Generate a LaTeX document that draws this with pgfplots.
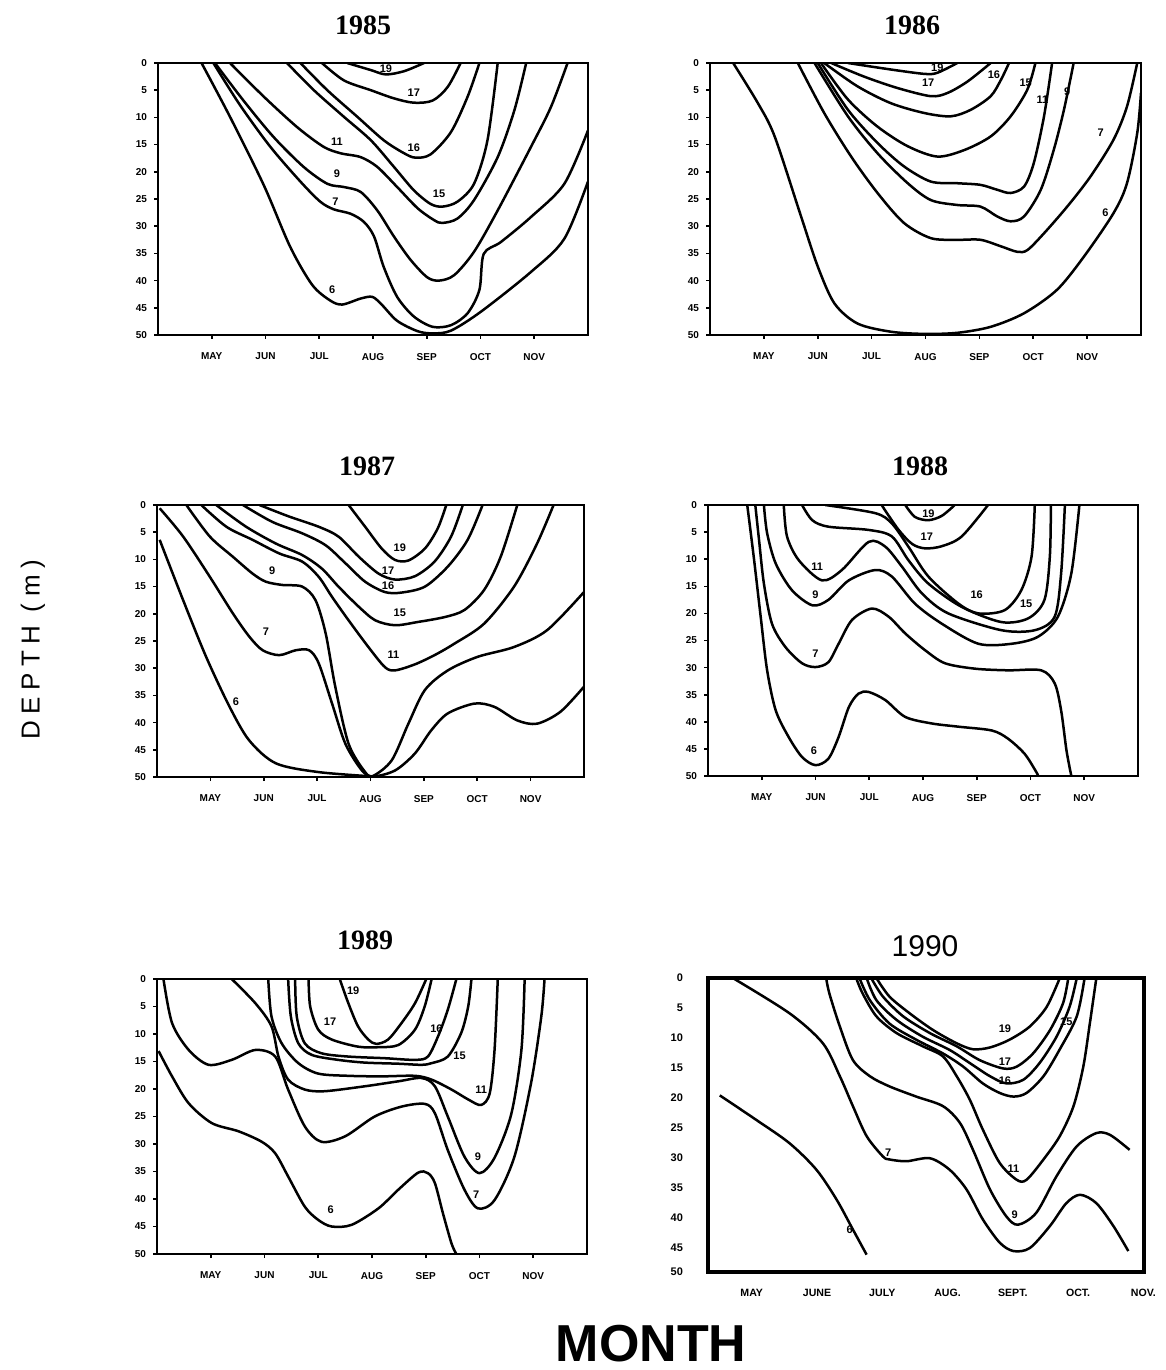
\documentclass[border=0pt]{standalone}
\usepackage{fontspec}
\setmainfont{Liberation Serif}
\setsansfont{Liberation Sans}
\usepackage{pgfplots}
\pgfplotsset{compat=1.18}
\newcommand{\tickfont}{\sffamily\bfseries\fontsize{5}{6}\selectfont}
\tikzset{lbl/.style={font=\sffamily\bfseries\fontsize{5.5}{6}\selectfont, inner sep=0.5pt}}
\pgfplotscreateplotcyclelist{blk}{{black,solid,mark=none,smooth,line width=1.25pt}\\}
\pgfplotsset{
  panel/.style={
    scale only axis, anchor=north west,
    xmin=0, xmax=8, ymin=0, ymax=50, y dir=reverse,
    xtick={1,...,7}, xticklabels={MAY,JUN,JUL,AUG,SEP,OCT,NOV},
    ytick={0,5,...,50},
    xtick pos=left, ytick pos=left,
    tick align=outside, major tick length=2pt,
    tick style={line width=0.8pt, black},
    /pgf/number format/assume math mode=true,
    yticklabel style={font=\tickfont},
    xticklabel style={font=\tickfont, yshift=-3.5pt},
    axis line style={line width=1.4pt},
    cycle list name=blk,
  },
}
\begin{document}
\begin{tikzpicture}
\path[use as bounding box] (0,0) rectangle (583pt,-685pt);

% ---------------- 1985 ----------------
\node[font=\bfseries\fontsize{14}{14}\selectfont] at (181.5pt,-12.5pt) {1985};
\begin{axis}[panel, at={(79pt,-31.5pt)}, width=215pt, height=136pt]
\addplot coordinates {(3.52,0)(3.96,1.3)(4.24,2.1)(4.58,1.5)(4.95,0)};
\addplot coordinates {(3.05,0)(3.46,3.2)(3.96,5.0)(4.39,6.5)(4.76,7.3)(5.11,6.9)(5.39,4.4)(5.63,0)};
\addplot coordinates {(2.65,0)(3.15,5.0)(3.71,9.9)(4.20,14.2)(4.58,16.6)(4.79,17.4)(5.07,16.8)(5.45,12.7)(5.76,6.2)(5.98,0)};
\addplot coordinates {(2.40,0)(2.90,5.0)(3.46,9.9)(3.96,14.2)(4.39,19.1)(4.76,23.4)(5.07,25.9)(5.29,26.4)(5.57,25.5)(5.88,22.2)(6.13,14.2)(6.32,0)};
\addplot coordinates {(1.34,0)(1.97,6.2)(2.59,11.8)(3.08,15.4)(3.40,16.6)(3.77,17.3)(4.08,19.1)(4.45,22.8)(4.83,26.7)(5.14,28.9)(5.29,29.4)(5.57,28.6)(5.88,25.2)(6.32,17.3)(6.63,8.7)(6.85,0)};
\addplot coordinates {(1.06,0)(1.59,6.9)(2.15,13.6)(2.71,19.1)(3.15,22.2)(3.46,22.8)(3.77,23.7)(4.08,27.1)(4.39,31.9)(4.70,36.2)(5.01,39.4)(5.23,40.0)(5.51,39.0)(5.88,34.7)(6.32,27.1)(6.94,15.4)(7.31,8.1)(7.62,0)};
\addplot coordinates {(1.03,0)(1.53,7.8)(2.09,15.4)(2.65,21.8)(3.02,25.5)(3.27,26.9)(3.58,27.7)(3.83,29.2)(4.02,31.9)(4.20,37.5)(4.45,43.0)(4.76,46.6)(5.11,48.5)(5.45,48.2)(5.76,46.0)(5.98,41.7)(6.06,35.1)(6.38,32.9)(6.94,28.3)(7.56,22.2)(8.0,12.4)};
\addplot coordinates {(0.81,0)(1.34,9.9)(1.97,22.5)(2.46,33.8)(2.87,40.8)(3.21,43.7)(3.43,44.4)(3.77,43.3)(3.99,43.0)(4.17,44.5)(4.45,47.4)(4.83,49.3)(5.11,49.7)(5.45,49.2)(6.01,45.7)(6.94,38.4)(7.56,32.3)(8.0,21.8)};
\node[lbl] at (axis cs:4.24,1.0) {19};
\node[lbl] at (axis cs:4.76,5.5) {17};
\node[lbl] at (axis cs:4.76,15.5) {16};
\node[lbl] at (axis cs:5.23,24.0) {15};
\node[lbl] at (axis cs:3.33,14.5) {11};
\node[lbl] at (axis cs:3.33,20.3) {9};
\node[lbl] at (axis cs:3.30,25.5) {7};
\node[lbl] at (axis cs:3.24,41.6) {6};
\end{axis}

% ---------------- 1986 ----------------
\node[font=\bfseries\fontsize{14}{14}\selectfont] at (456pt,-12.5pt) {1986};
\begin{axis}[panel, at={(355pt,-31.5pt)}, width=215.5pt, height=136pt]
\addplot coordinates {(2.56,0)(3.36,1.2)(3.98,2.0)(4.22,1.8)(4.59,0)};
\addplot coordinates {(2.25,0)(2.86,2.5)(3.48,4.6)(4.10,6.1)(4.41,5.5)(4.78,3.4)(5.21,0)};
\addplot coordinates {(2.12,0)(2.74,4.3)(3.36,7.4)(3.98,9.2)(4.47,9.8)(4.84,8.6)(5.21,6.1)(5.40,3.1)(5.55,0)};
\addplot coordinates {(2.06,0)(2.56,6.7)(3.11,11.7)(3.67,15.3)(4.22,17.2)(4.72,16.0)(5.21,13.5)(5.58,9.8)(5.89,4.9)(6.04,0)};
\addplot coordinates {(2.00,0)(2.56,8.6)(3.11,14.7)(3.60,19.0)(4.10,21.8)(4.59,22.1)(5.02,22.4)(5.33,23.3)(5.58,23.9)(5.83,22.7)(6.01,18.4)(6.20,9.8)(6.35,0)};
\addplot coordinates {(1.94,0)(2.56,9.8)(3.11,16.6)(3.67,22.1)(4.10,25.2)(4.59,26.1)(5.02,26.4)(5.33,28.2)(5.58,29.1)(5.83,28.2)(6.14,23.3)(6.38,16.0)(6.57,8.6)(6.75,0)};
\addplot coordinates {(1.63,0)(2.12,9.2)(2.62,17.2)(3.11,23.9)(3.60,29.4)(4.10,32.2)(4.59,32.5)(5.02,32.5)(5.40,33.7)(5.70,34.7)(5.89,34.4)(6.20,31.3)(6.63,26.4)(7.06,20.9)(7.49,14.1)(7.74,8.0)(7.93,0)};
\addplot coordinates {(0.43,0)(0.89,7.4)(1.20,13.5)(1.69,28.2)(2.00,37.4)(2.31,44.2)(2.74,47.9)(3.36,49.4)(3.98,49.8)(4.59,49.6)(5.21,48.5)(5.83,46.0)(6.44,41.7)(6.94,35.6)(7.49,27.6)(7.74,22.1)(7.93,12.9)(8.0,5.5)};
\node[lbl] at (axis cs:4.22,0.9) {19};
\node[lbl] at (axis cs:4.05,3.7) {17};
\node[lbl] at (axis cs:5.27,2.1) {16};
\node[lbl] at (axis cs:5.86,3.7) {15};
\node[lbl] at (axis cs:6.17,6.7) {11};
\node[lbl] at (axis cs:6.63,5.2) {9};
\node[lbl] at (axis cs:7.25,12.9) {7};
\node[lbl] at (axis cs:7.34,27.5) {6};
\end{axis}

% ---------------- 1987 ----------------
\node[font=\bfseries\fontsize{14}{14}\selectfont] at (183.5pt,-233pt) {1987};
\begin{axis}[panel, at={(78.5pt,-252.5pt)}, width=213.5pt, height=136pt]
\addplot coordinates {(3.59,0)(3.90,4.0)(4.21,8.0)(4.46,10.1)(4.71,10.2)(5.02,8.0)(5.26,4.3)(5.42,0)};
\addplot coordinates {(1.92,0)(2.47,2.1)(3.03,4.0)(3.40,5.8)(3.78,9.5)(4.15,12.6)(4.46,13.7)(4.83,13.1)(5.20,10.4)(5.51,5.8)(5.73,0)};
\addplot coordinates {(1.61,0)(2.16,3.1)(2.72,5.2)(3.16,7.4)(3.53,10.7)(3.90,14.1)(4.27,16.0)(4.58,16.1)(5.02,15.0)(5.45,11.3)(5.82,6.4)(6.10,0)};
\addplot coordinates {(1.11,0)(1.67,4.0)(2.23,7.1)(2.72,9.2)(3.09,11.7)(3.40,15.0)(3.78,18.7)(4.09,21.2)(4.46,22.1)(4.89,21.5)(5.39,20.6)(5.76,19.3)(6.13,15.6)(6.44,9.5)(6.75,0)};
\addplot coordinates {(0.83,0)(1.30,4.0)(1.79,6.4)(2.29,8.9)(2.72,10.4)(3.03,13.2)(3.28,16.9)(3.59,21.2)(3.96,26.1)(4.27,29.8)(4.46,30.4)(4.83,29.3)(5.20,27.6)(5.57,25.5)(6.13,21.8)(6.69,15.0)(7.12,7.1)(7.43,0)};
\addplot coordinates {(0.55,0)(0.99,5.8)(1.42,9.5)(1.79,12.6)(2.04,14.1)(2.35,14.7)(2.72,15.0)(2.97,17.5)(3.16,23.6)(3.34,33.4)(3.59,43.9)(3.90,49.1)(4.05,49.8)(4.40,46.9)(4.71,40.2)(5.02,34.0)(5.45,30.4)(6.01,27.9)(6.69,26.1)(7.31,23.0)(8.0,16.0)};
\addplot coordinates {(0.05,0.6)(0.49,5.8)(0.99,13.2)(1.42,19.9)(1.73,24.2)(1.98,26.7)(2.29,27.6)(2.60,26.7)(2.85,26.7)(3.03,29.1)(3.28,36.5)(3.53,43.9)(3.84,48.8)(4.05,49.9)(4.46,48.8)(4.83,45.7)(5.14,41.4)(5.45,38.3)(5.95,36.5)(6.32,37.1)(6.75,39.6)(7.12,40.2)(7.56,38.0)(8.0,33.4)};
\addplot coordinates {(0.05,6.4)(0.49,17.5)(0.92,27.9)(1.36,37.1)(1.73,43.3)(2.23,47.5)(3.03,49.1)(4.05,49.9)};
\node[lbl] at (axis cs:4.55,7.8) {19};
\node[lbl] at (axis cs:4.33,12.0) {17};
\node[lbl] at (axis cs:4.33,14.9) {16};
\node[lbl] at (axis cs:4.55,19.8) {15};
\node[lbl] at (axis cs:4.43,27.6) {11};
\node[lbl] at (axis cs:2.16,12.0) {9};
\node[lbl] at (axis cs:2.04,23.3) {7};
\node[lbl] at (axis cs:1.48,36.2) {6};
\end{axis}

% ---------------- 1988 ----------------
\node[font=\bfseries\fontsize{14}{14}\selectfont] at (460pt,-233pt) {1988};
\begin{axis}[panel, at={(354pt,-252.5pt)}, width=215pt, height=135.5pt]
\addplot coordinates {(3.67,0)(3.85,2.2)(4.10,2.8)(4.35,2.0)(4.59,0)};
\addplot coordinates {(3.23,0)(3.54,4.5)(3.80,7.2)(4.04,8.0)(4.35,7.6)(4.72,5.8)(5.21,0)};
\addplot coordinates {(2.18,0)(3.11,1.5)(3.42,3.4)(3.73,7.7)(4.10,13.2)(4.66,18.2)(5.03,20.0)(5.52,19.4)(5.83,15.7)(6.02,9.5)(6.08,0)};
\addplot coordinates {(1.75,0)(1.94,2.8)(2.24,4.0)(2.99,4.6)(3.42,5.8)(3.73,10.2)(4.10,14.5)(4.72,18.8)(5.46,21.6)(5.96,20.9)(6.26,17.5)(6.36,9.5)(6.38,0)};
\addplot coordinates {(1.41,0)(1.47,5.8)(1.69,10.2)(2.12,13.9)(2.49,12.0)(2.99,6.8)(3.30,7.7)(3.61,11.4)(3.98,16.3)(4.47,20.0)(5.46,23.1)(6.08,23.1)(6.45,20.6)(6.57,12.6)(6.64,0)};
\addplot coordinates {(1.04,0)(1.10,5.2)(1.26,10.8)(1.56,15.7)(1.94,18.5)(2.24,17.5)(2.62,13.9)(3.11,12.0)(3.42,13.2)(3.85,18.2)(4.35,21.9)(5.03,25.6)(5.65,25.6)(6.14,24.3)(6.51,20.6)(6.76,12.6)(6.91,0)};
\addplot coordinates {(0.88,0)(0.95,6.5)(1.04,14.5)(1.19,21.9)(1.44,26.2)(1.75,29.2)(2.00,29.9)(2.24,29.0)(2.43,25.6)(2.68,21.2)(3.05,19.1)(3.36,20.6)(3.67,23.7)(4.04,26.8)(4.41,29.2)(4.97,30.2)(5.58,30.5)(6.20,30.5)(6.45,32.9)(6.57,37.9)(6.67,45.3)(6.76,50)};
\addplot coordinates {(0.73,0)(0.85,9.5)(0.98,20.6)(1.10,30.5)(1.26,37.9)(1.50,42.8)(1.75,46.5)(2.00,48.0)(2.24,46.8)(2.43,42.8)(2.62,37.3)(2.80,34.8)(2.99,34.5)(3.30,36.0)(3.67,39.1)(4.16,40.3)(4.66,40.9)(5.28,41.6)(5.58,43.1)(5.89,45.9)(6.11,49.3)(6.14,50)};
\node[lbl] at (axis cs:4.10,1.6) {19};
\node[lbl] at (axis cs:4.07,5.8) {17};
\node[lbl] at (axis cs:5.0,16.6) {16};
\node[lbl] at (axis cs:5.92,18.3) {15};
\node[lbl] at (axis cs:2.03,11.3) {11};
\node[lbl] at (axis cs:2.0,16.6) {9};
\node[lbl] at (axis cs:2.0,27.4) {7};
\node[lbl] at (axis cs:1.97,45.3) {6};
\end{axis}

% ---------------- 1989 ----------------
\node[font=\bfseries\fontsize{14}{14}\selectfont] at (182.5pt,-470pt) {1989};
\begin{axis}[panel, at={(78.5pt,-489.5pt)}, width=215pt, height=137.5pt]
\addplot coordinates {(3.40,0)(3.56,4.4)(3.74,8.6)(3.93,11.0)(4.08,11.8)(4.30,11.0)(4.55,8.0)(4.80,4.4)(5.01,0)};
\addplot coordinates {(2.82,0)(2.85,5.0)(3.00,9.2)(3.25,11.0)(3.74,12.3)(4.12,12.4)(4.49,12.0)(4.80,9.2)(4.98,5.0)(5.11,0)};
\addplot coordinates {(2.57,0)(2.60,6.8)(2.75,11.7)(3.06,13.5)(3.56,14.1)(4.24,14.4)(4.80,14.7)(5.04,14.1)(5.23,10.4)(5.41,5.6)(5.57,0)};
\addplot coordinates {(2.44,0)(2.49,6.8)(2.63,11.7)(2.88,13.8)(3.37,14.7)(3.87,15.2)(4.49,15.4)(4.92,15.6)(5.11,15.3)(5.41,14.1)(5.66,9.8)(5.79,5.0)(5.85,0)};
\addplot coordinates {(2.07,0)(2.13,6.8)(2.32,11.7)(2.63,15.3)(3.00,17.2)(3.56,17.6)(4.18,17.7)(4.80,17.6)(5.11,18.3)(5.48,20.1)(5.79,21.9)(6.03,22.9)(6.19,20.8)(6.28,12.9)(6.34,0)};
\addplot coordinates {(1.39,0)(1.83,4.4)(2.13,8.6)(2.26,14.1)(2.44,18.3)(2.75,20.1)(3.12,20.4)(3.87,19.5)(4.49,18.6)(4.92,18.0)(5.17,19.5)(5.41,25.0)(5.72,32.3)(6.00,35.3)(6.28,32.5)(6.59,24.6)(6.78,12.9)(6.84,0)};
\addplot coordinates {(0.12,0)(0.28,8.0)(0.59,12.9)(0.96,15.6)(1.39,14.7)(1.83,12.9)(2.20,14.1)(2.44,20.1)(2.75,26.8)(3.06,29.6)(3.50,28.6)(4.05,25.0)(4.55,23.2)(4.98,22.7)(5.17,24.4)(5.41,31.1)(5.72,38.3)(5.97,41.7)(6.28,40.2)(6.65,32.3)(6.96,18.9)(7.15,6.8)(7.21,0)};
\addplot coordinates {(0.03,13.1)(0.28,17.7)(0.59,22.6)(1.02,26.2)(1.52,27.7)(1.95,29.6)(2.20,31.7)(2.44,35.9)(2.75,41.4)(3.00,43.8)(3.25,45.0)(3.62,44.7)(4.12,41.7)(4.49,38.3)(4.86,35.2)(5.04,35.3)(5.17,37.1)(5.32,42.6)(5.48,48.1)(5.57,50)};
\node[lbl] at (axis cs:3.65,2.2) {19};
\node[lbl] at (axis cs:3.22,7.7) {17};
\node[lbl] at (axis cs:5.20,9.1) {16};
\node[lbl] at (axis cs:5.63,14.0) {15};
\node[lbl] at (axis cs:6.03,20.1) {11};
\node[lbl] at (axis cs:5.97,32.3) {9};
\node[lbl] at (axis cs:5.94,39.3) {7};
\node[lbl] at (axis cs:3.23,42.0) {6};
\end{axis}

% ---------------- 1990 ----------------
\node[font=\sffamily\fontsize{15}{15}\selectfont] at (462.5pt,-473pt) {1990};
\begin{axis}[panel, at={(354pt,-489pt)}, width=218pt, height=147pt,
  xmin=0.33, xmax=7.01, ymax=49.1,
  xticklabels={MAY,JUNE,JULY,AUG.,SEPT.,OCT.,NOV.},
  ytick={0,5,10,15,20,25,30,35,40,45,49.1},
  yticklabels={0,5,10,15,20,25,30,35,40,45,50},
  major tick length=0pt,
  yticklabel style={font=\sffamily\bfseries\fontsize{5.5}{6}\selectfont, xshift=-9pt},
  xticklabel style={font=\sffamily\bfseries\fontsize{5.3}{6}\selectfont, yshift=-1.5pt},
  axis line style={line width=1.6pt}]
\addplot coordinates {(2.91,0)(3.11,3.1)(3.42,5.9)(3.78,8.7)(4.14,10.9)(4.39,11.9)(4.65,11.6)(4.95,10.3)(5.26,8.1)(5.52,4.8)(5.72,0)};
\addplot coordinates {(2.83,0)(3.01,3.1)(3.32,6.4)(3.73,9.2)(4.14,11.4)(4.49,13.7)(4.85,15.1)(5.06,14.8)(5.31,12.6)(5.57,8.7)(5.77,4.2)(5.85,0)};
\addplot coordinates {(2.76,0)(2.91,3.7)(3.22,7.0)(3.62,9.8)(4.03,12.0)(4.34,14.2)(4.65,16.4)(4.90,17.6)(5.16,17.0)(5.41,14.2)(5.67,9.8)(5.87,4.8)(5.98,0)};
\addplot coordinates {(2.65,0)(2.81,3.7)(3.11,7.6)(3.52,10.3)(3.93,12.6)(4.24,14.8)(4.54,17.6)(4.80,19.2)(5.01,19.8)(5.21,19.2)(5.47,16.4)(5.72,11.9)(5.98,6.4)(6.10,0)};
\addplot coordinates {(2.60,0)(2.70,2.6)(2.91,6.4)(3.22,9.2)(3.62,11.4)(3.93,13.1)(4.14,16.4)(4.34,20.3)(4.54,25.3)(4.80,30.9)(5.06,33.7)(5.21,33.7)(5.47,30.3)(5.72,26.4)(5.93,21.4)(6.08,14.8)(6.18,7.6)(6.28,0)};
\addplot coordinates {(2.14,0)(2.19,2.6)(2.35,8.1)(2.55,13.7)(2.81,16.4)(3.11,18.1)(3.52,19.8)(3.93,21.4)(4.19,24.2)(4.39,28.7)(4.65,35.3)(4.90,39.8)(5.08,41.2)(5.36,39.2)(5.67,33.1)(5.98,28.1)(6.28,25.9)(6.49,26.2)(6.79,28.7)};
\addplot coordinates {(0.71,0)(1.58,5.9)(2.09,10.9)(2.35,16.4)(2.55,21.4)(2.76,26.4)(3.01,29.8)(3.11,30.3)(3.37,30.6)(3.73,30.1)(4.03,32.0)(4.29,35.3)(4.54,40.3)(4.80,44.2)(5.01,45.6)(5.26,45.1)(5.57,41.4)(5.82,37.6)(6.03,36.2)(6.28,37.6)(6.54,41.4)(6.77,45.6)};
\addplot coordinates {(0.51,19.6)(1.07,23.7)(1.58,27.6)(1.99,32.0)(2.30,37.0)(2.55,42.0)(2.76,46.2)};
\node[lbl] at (axis cs:4.88,8.4) {19};
\node[lbl] at (axis cs:5.82,7.3) {15};
\node[lbl] at (axis cs:4.88,13.9) {17};
\node[lbl] at (axis cs:4.88,17.1) {16};
\node[lbl] at (axis cs:5.01,31.9) {11};
\node[lbl] at (axis cs:5.03,39.5) {9};
\node[lbl] at (axis cs:3.09,29.2) {7};
\node[lbl] at (axis cs:2.50,42.0) {6};
\end{axis}

% ---------------- common labels ----------------
\node[rotate=90, font=\sffamily\fontsize{13}{13}\selectfont\addfontfeature{LetterSpace=25}] at (16.5pt,-325pt) {DEPTH (m)};
\node[inner sep=0pt, font=\sffamily\bfseries\fontsize{26}{26}\selectfont] at (325.5pt,-672pt) {MONTH};
\end{tikzpicture}
\end{document}
